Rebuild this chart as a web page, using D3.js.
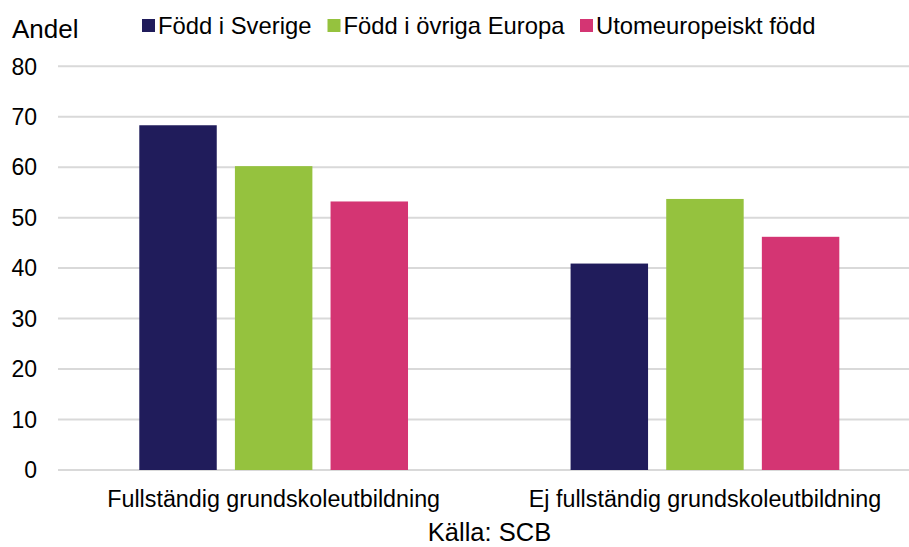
<!DOCTYPE html>
<html>
<head>
<meta charset="utf-8">
<script src="https://cdn.jsdelivr.net/npm/d3@7"></script>
<style>
  html, body { margin: 0; padding: 0; background: #fff; }
  svg { display: block; font-family: "Liberation Sans", Arial, sans-serif; }
</style>
</head>
<body>
<svg id="chart" width="909" height="547"></svg>
<script>
const categories = ["Fullständig grundskoleutbildning", "Ej fullständig grundskoleutbildning"];
const seriesNames = ["Född i Sverige", "Född i övriga Europa", "Utomeuropeiskt född"];
const seriesColors = ["#201c5b", "#95c23e", "#d43573"];
const bornSweden = [68.3, 40.9];
const bornEurope = [60.2, 53.7];
const bornOutsideEurope = [53.2, 46.2];
const yTicks = [0, 10, 20, 30, 40, 50, 60, 70, 80];
const yLabel = "Andel";
const sourceText = "Källa: SCB";

const seriesValues = [bornSweden, bornEurope, bornOutsideEurope];
const data = categories.map((c, i) => ({
  category: c,
  values: seriesNames.map((s, j) => ({ series: s, value: seriesValues[j][i], color: seriesColors[j] }))
}));

const svg = d3.select("#chart");
const W = 909, H = 547;

const x0 = d3.scaleBand().domain(categories).range([58, 920.6]).paddingInner(0).paddingOuter(0);
const x1 = d3.scaleBand().domain(seriesNames).range([0, x0.bandwidth()]).paddingInner(0.19).paddingOuter(0.85);
const y = d3.scaleLinear().domain([0, 80]).range([470, 66.2]);

// gridlines
svg.append("g").selectAll("line").data(yTicks).join("line")
  .attr("x1", 58).attr("x2", W)
  .attr("y1", d => y(d)).attr("y2", d => y(d))
  .attr("stroke", "#d9d9d9").attr("stroke-width", 2);

// y axis labels
const yAxis = d3.axisLeft(y).tickValues(yTicks).tickSize(0).tickPadding(0);
const gy = svg.append("g").attr("transform", "translate(37,0)").call(yAxis);
gy.select(".domain").remove();
gy.selectAll("text")
  .attr("font-family", "'Liberation Sans', Arial, sans-serif")
  .attr("font-size", 23).attr("fill", "#000").attr("dy", "0.34em");

// bars
const groups = svg.append("g").selectAll("g").data(data).join("g")
  .attr("transform", d => `translate(${x0(d.category)},0)`);
groups.selectAll("rect").data(d => d.values).join("rect")
  .attr("x", d => x1(d.series))
  .attr("width", x1.bandwidth())
  .attr("y", d => y(d.value))
  .attr("height", d => y(0) - y(d.value))
  .attr("fill", d => d.color);

// x axis labels
const xAxis = d3.axisBottom(x0).tickSize(0).tickPadding(0);
const gx = svg.append("g").attr("transform", "translate(0,506.5)").call(xAxis);
gx.select(".domain").remove();
gx.selectAll("text")
  .attr("font-family", "'Liberation Sans', Arial, sans-serif")
  .attr("font-size", 23.3).attr("fill", "#000").attr("dy", 0);

// y title
svg.append("text").attr("x", 12).attr("y", 38).attr("font-size", 26).attr("fill", "#000").text(yLabel);

// legend
const legendX = [142, 327.5, 580];
const lg = svg.append("g").selectAll("g").data(seriesNames).join("g")
  .attr("transform", (d, i) => `translate(${legendX[i]},0)`);
lg.append("rect").attr("x", 0).attr("y", 19).attr("width", 13).attr("height", 13)
  .attr("fill", (d, i) => seriesColors[i]);
lg.append("text").attr("x", 16).attr("y", 34).attr("font-size", 23.8).attr("fill", "#000").text(d => d);

// source
svg.append("text").attr("x", 489.5).attr("y", 541).attr("text-anchor", "middle")
  .attr("font-size", 25.5).attr("fill", "#000").text(sourceText);
</script>
</body>
</html>
